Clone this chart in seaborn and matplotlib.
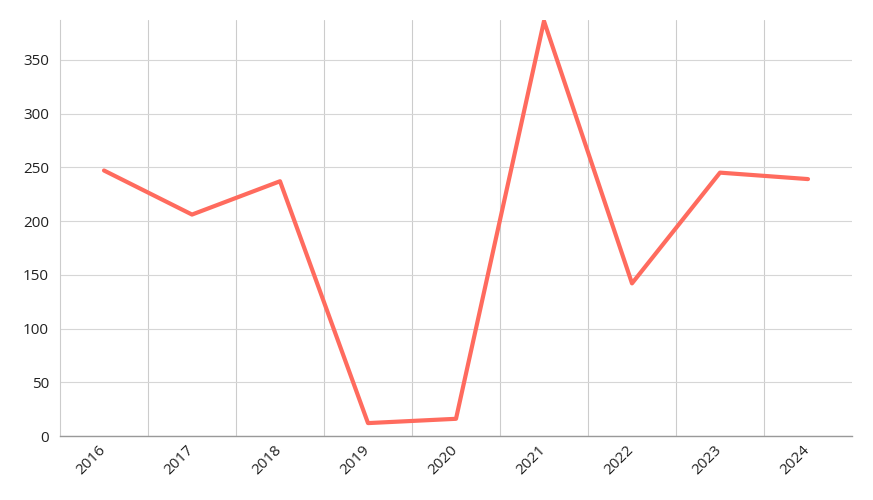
import numpy as np
import pandas as pd
import seaborn as sns
import matplotlib.pyplot as plt
import matplotlib.transforms as mtransforms
from matplotlib.ticker import FixedLocator

# Datos
years = ['2016', '2017', '2018', '2019', '2020', '2021', '2022', '2023', '2024']
values = [247, 206, 237, 12, 16, 386, 142, 245, 239]

df = pd.DataFrame({'year': years, 'value': values})

sns.set_style("white")
plt.rcParams['font.family'] = ['Open Sans', 'DejaVu Sans']

fig = plt.figure(figsize=(8.73, 5.0), dpi=100)
ax = fig.add_axes([60 / 873, 64 / 500, 792 / 873, 416 / 500])

sns.lineplot(data=df, x='year', y='value', color='#ff6b5e', linewidth=3, ax=ax, sort=False)

ax.set_xlim(-0.5, len(years) - 0.5)
ax.set_ylim(0, 387)
ax.set_yticks(range(0, 351, 50))

# líneas verticales entre categorías
ax.xaxis.set_minor_locator(FixedLocator(np.arange(0.5, len(years) - 1, 1)))
ax.grid(True, which='minor', axis='x', color='#cccccc', linewidth=0.8)
ax.grid(True, which='major', axis='y', color='#d6d6d6', linewidth=0.8)
ax.set_axisbelow(True)

for s in ['top', 'right']:
    ax.spines[s].set_visible(False)
ax.spines['left'].set_color('#cccccc')
ax.spines['left'].set_linewidth(0.8)
ax.spines['bottom'].set_color('#999999')
ax.spines['bottom'].set_linewidth(1)

ax.tick_params(axis='both', which='both', length=0, labelsize=11, colors='#222222')
ax.tick_params(axis='y', pad=8)
ax.tick_params(axis='x', pad=5)
offset = mtransforms.ScaledTranslation(-6 / 100, 0, fig.dpi_scale_trans)
for lbl in ax.get_xticklabels():
    lbl.set_rotation(45)
    lbl.set_ha('right')
    lbl.set_rotation_mode('anchor')
    lbl.set_transform(lbl.get_transform() + offset)
ax.set_xlabel('')
ax.set_ylabel('')

plt.savefig('out.png', dpi=100)
